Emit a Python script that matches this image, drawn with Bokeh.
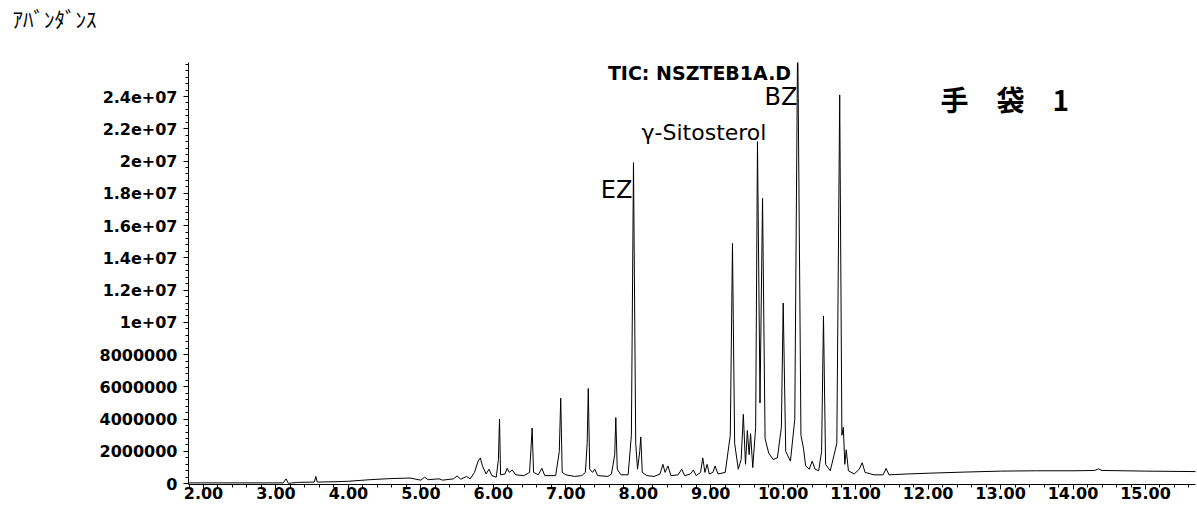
from bokeh.plotting import figure
from bokeh.models import Range1d, FixedTicker, Label
from bokeh.embed import file_html
from bokeh.resources import INLINE

# ---- data (retention time in min, abundance) ----
rt = [1.79, 2.50, 3.10, 3.14, 3.17, 3.30, 3.53, 3.55, 3.57, 3.80, 4.00, 4.30, 4.60, 4.85,
      5.00, 5.05, 5.10, 5.25, 5.30, 5.45, 5.50, 5.55, 5.63, 5.68, 5.74, 5.79, 5.82, 5.85,
      5.90, 5.94, 5.98, 6.04, 6.07, 6.085, 6.10, 6.16, 6.19, 6.22, 6.26, 6.31, 6.42, 6.50,
      6.52, 6.535, 6.555, 6.62, 6.67, 6.71, 6.86, 6.91, 6.93, 6.95, 7.00, 7.12, 7.22, 7.27,
      7.295, 7.31, 7.33, 7.37, 7.40, 7.44, 7.58, 7.63, 7.675, 7.69, 7.71, 7.76, 7.86, 7.905,
      7.934, 7.965, 7.99, 8.02, 8.035, 8.055, 8.12, 8.22, 8.30, 8.34, 8.37, 8.41, 8.45, 8.55,
      8.60, 8.64, 8.72, 8.76, 8.80, 8.86, 8.89, 8.92, 8.95, 8.98, 9.03, 9.06, 9.10, 9.20,
      9.27, 9.30, 9.33, 9.38, 9.42, 9.45, 9.48, 9.505, 9.53, 9.55, 9.58, 9.62, 9.645, 9.68,
      9.715, 9.75, 9.80, 9.86, 9.92, 9.975, 10.00, 10.035, 10.10, 10.16, 10.20, 10.245,
      10.28, 10.31, 10.36, 10.40, 10.44, 10.49, 10.53, 10.556, 10.585, 10.65, 10.74, 10.78,
      10.81, 10.83, 10.85, 10.87, 10.90, 10.98, 11.05, 11.09, 11.13, 11.25, 11.38, 11.42,
      11.46, 11.70, 12.00, 12.50, 13.00, 13.50, 14.00, 14.30, 14.35, 14.40, 15.00, 15.70]
abundance = [0.05e6, 0.05e6, 0.05e6, 0.30e6, 0.02e6, 0.08e6, 0.10e6, 0.45e6, 0.10e6, 0.12e6,
             0.15e6, 0.25e6, 0.32e6, 0.35e6, 0.22e6, 0.40e6, 0.25e6, 0.30e6, 0.22e6, 0.30e6,
             0.48e6, 0.28e6, 0.45e6, 0.30e6, 0.70e6, 1.40e6, 1.60e6, 1.10e6, 0.60e6, 0.90e6,
             0.50e6, 0.40e6, 1.50e6, 4.00e6, 0.55e6, 0.60e6, 0.95e6, 0.70e6, 0.85e6, 0.55e6,
             0.50e6, 0.70e6, 2.20e6, 3.45e6, 0.70e6, 0.55e6, 0.95e6, 0.50e6, 0.50e6, 2.00e6,
             5.30e6, 0.70e6, 0.55e6, 0.45e6, 0.50e6, 0.70e6, 2.50e6, 5.90e6, 0.90e6, 0.70e6,
             0.90e6, 0.50e6, 0.45e6, 0.60e6, 1.80e6, 4.10e6, 0.90e6, 0.55e6, 0.55e6, 3.00e6,
             19.9e6, 2.50e6, 0.90e6, 2.00e6, 2.90e6, 0.70e6, 0.50e6, 0.45e6, 0.60e6, 1.20e6,
             0.70e6, 1.10e6, 0.50e6, 0.55e6, 0.90e6, 0.50e6, 0.60e6, 0.85e6, 0.50e6, 0.70e6,
             1.60e6, 0.70e6, 1.20e6, 0.60e6, 0.70e6, 1.10e6, 0.60e6, 0.70e6, 3.00e6, 14.9e6,
             2.50e6, 0.90e6, 1.50e6, 4.30e6, 1.20e6, 3.30e6, 1.80e6, 3.10e6, 1.00e6, 3.50e6,
             21.2e6, 5.00e6, 17.7e6, 2.80e6, 1.90e6, 1.50e6, 1.60e6, 3.50e6, 11.2e6, 2.00e6,
             1.40e6, 4.00e6, 28.0e6, 3.00e6, 2.20e6, 1.10e6, 0.90e6, 1.40e6, 0.90e6, 0.80e6,
             2.00e6, 10.4e6, 1.20e6, 0.80e6, 2.50e6, 24.1e6, 3.00e6, 3.50e6, 1.20e6, 2.10e6,
             0.80e6, 0.60e6, 0.90e6, 1.30e6, 0.70e6, 0.55e6, 0.55e6, 0.95e6, 0.55e6, 0.60e6,
             0.65e6, 0.72e6, 0.78e6, 0.80e6, 0.80e6, 0.82e6, 0.92e6, 0.82e6, 0.78e6, 0.75e6]

x_ticks = [2, 3, 4, 5, 6, 7, 8, 9, 10, 11, 12, 13, 14, 15]
x_tick_labels = ["2.00", "3.00", "4.00", "5.00", "6.00", "7.00", "8.00", "9.00",
                 "10.00", "11.00", "12.00", "13.00", "14.00", "15.00"]
y_ticks = [0, 2000000, 4000000, 6000000, 8000000, 10000000, 12000000, 14000000,
           16000000, 18000000, 20000000, 22000000, 24000000]
y_tick_labels = ["0", "2000000", "4000000", "6000000", "8000000", "1e+07", "1.2e+07",
                 "1.4e+07", "1.6e+07", "1.8e+07", "2e+07", "2.2e+07", "2.4e+07"]

peak_names = ["EZ", "γ-Sitosterol", "BZ"]
peak_label_rt = [7.92, 8.907, 10.197]
peak_label_abund = [18.2e6, 21.8e6, 24.0e6]

title_text = "TIC: NSZTEB1A.D"
sample_text = "手　袋　1"
y_unit_text = "ｱﾊﾞﾝﾀﾞﾝｽ"

# ---- figure ----
p = figure(width=1197, height=505, output_backend="svg", toolbar_location=None,
           x_range=Range1d(1.793, 15.69), y_range=Range1d(-5e4, 2.611e7),
           min_border_left=188, min_border_right=2, min_border_top=60,
           min_border_bottom=21)
p.title.text = y_unit_text + "\n "
p.title.align = "left"
p.title.offset = -176
p.title.standoff = 0
p.title.text_font = "Noto Sans CJK JP"
p.title.text_font_style = "normal"
p.title.text_font_size = "21px"
p.title.text_line_height = 1.0
p.title.text_color = "black"
p.outline_line_color = None
p.xgrid.visible = False
p.ygrid.visible = False
p.background_fill_color = "white"

p.line(rt, abundance, line_color="black", line_width=1)

tick_font = "DejaVu Sans"
p.xaxis.ticker = FixedTicker(ticks=x_ticks,
                             minor_ticks=[round(1.8 + 0.2 * i, 1) for i in range(71)])
p.xaxis.major_label_overrides = {t: s for t, s in zip(x_ticks, x_tick_labels)}
p.yaxis.ticker = FixedTicker(ticks=y_ticks,
                             minor_ticks=[400000 * i for i in range(66)])
p.yaxis.major_label_overrides = {t: s for t, s in zip(y_ticks, y_tick_labels)}

for ax in (p.xaxis[0], p.yaxis[0]):
    ax.axis_line_color = "black"
    ax.axis_line_width = 1
    ax.major_tick_line_color = "black"
    ax.minor_tick_line_color = "black"
    ax.major_tick_in = 0
    ax.minor_tick_in = 0
    ax.major_tick_out = 5
    ax.minor_tick_out = 3
    ax.major_label_text_font = tick_font
    ax.major_label_text_font_style = "bold"
    ax.major_label_text_color = "black"
    ax.major_label_text_font_size = "16px"

p.xaxis.major_label_standoff = -3
p.yaxis.major_label_standoff = 6

for name, x, y in zip(peak_names, peak_label_rt, peak_label_abund):
    size = "22px" if len(name) > 2 else "24px"
    align = "center" if len(name) > 2 else "right"
    p.add_layout(Label(x=x, y=y, text=name, text_font="DejaVu Sans",
                       text_font_size=size, text_align=align,
                       text_baseline="alphabetic", text_color="black"))

p.add_layout(Label(x=8.845, y=2.549e7, text=title_text, text_font="DejaVu Sans",
                   text_font_style="bold", text_font_size="19px", text_align="center",
                   text_baseline="middle", text_color="black"))
p.add_layout(Label(x=12.171, y=23.84e6, text=sample_text, text_font="Noto Sans CJK JP",
                   text_font_style="bold", text_font_size="28px", text_align="left",
                   text_baseline="middle", text_color="black"))

open("out.html", "w").write(file_html(p, INLINE))
